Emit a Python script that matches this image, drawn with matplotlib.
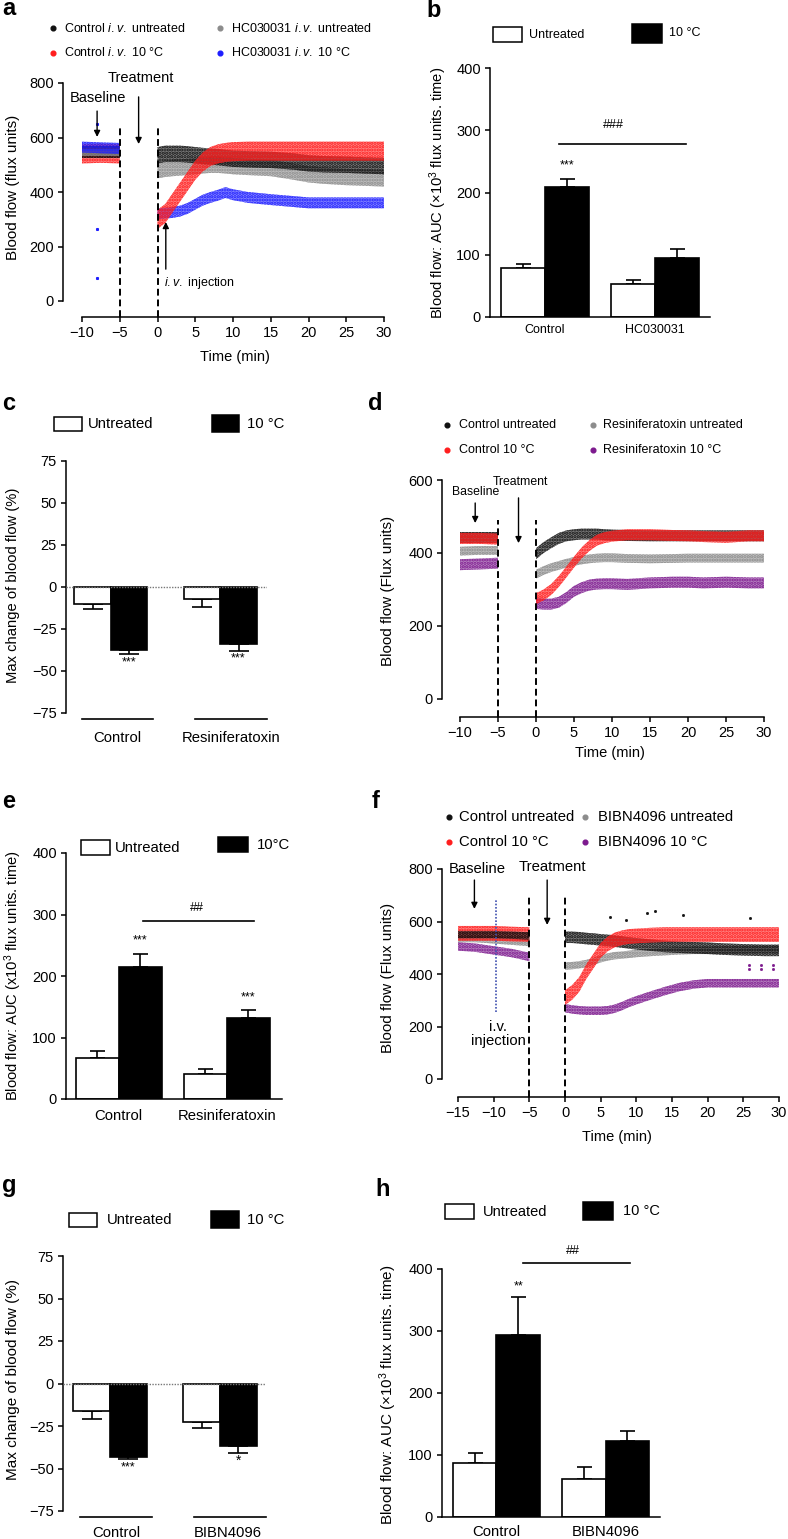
import matplotlib
matplotlib.use('Agg')
import matplotlib.pyplot as plt
from matplotlib.patches import Rectangle
from matplotlib.lines import Line2D

plt.rcParams['font.family'] = ['Liberation Sans', 'DejaVu Sans']
plt.rcParams['mathtext.fontset'] = 'custom'
plt.rcParams['mathtext.rm'] = 'Liberation Sans'
plt.rcParams['mathtext.it'] = 'Liberation Sans:italic'
plt.rcParams['axes.linewidth'] = 1.1
plt.rcParams['hatch.linewidth'] = 1.6

# ------------------------------------------------------------------ data
# panel a (HC030031)
a_base_t = [-10, -7.5, -5]
a_base_black = [545, 545, 545]
a_base_red = [540, 542, 540]
a_base_gray = [545, 545, 545]
a_base_blue = [565, 562, 560]
a_t = [0, 1, 2, 3, 4, 5, 6, 7, 8, 9, 10, 12, 15, 18, 20, 22, 25, 28, 30]
a_black = [535, 540, 540, 540, 538, 535, 532, 530, 528, 525, 522, 520, 518, 512, 505, 502, 500, 497, 495]
a_red = [300, 320, 360, 400, 440, 480, 510, 530, 540, 545, 548, 550, 550, 550, 550, 550, 550, 550, 550]
a_gray = [480, 485, 488, 490, 492, 495, 498, 500, 500, 498, 495, 492, 488, 475, 465, 460, 455, 452, 450]
a_blue = [320, 322, 325, 330, 340, 355, 370, 380, 388, 398, 390, 380, 372, 365, 360, 360, 360, 360, 360]
a_blue_out_t = [-8, -8, -8]
a_blue_out_v = [265, 85, 648]
a_spread = [30, 35, 30, 20]  # black, red, gray, blue

# panel b
b_groups = ['Control', 'HC030031']
b_untreated = [78, 53]
b_untreated_err = [7, 6]
b_cold = [209, 94]
b_cold_err = [13, 16]

# panel c
c_groups = ['Control', 'Resiniferatoxin']
c_untreated = [-10, -7]
c_untreated_err = [2.8, 4.7]
c_cold = [-37.5, -34]
c_cold_err = [2.5, 3.9]

# panel d (Resiniferatoxin)
d_base_t = [-10, -7.5, -5]
d_base_black = [442, 442, 442]
d_base_red = [440, 440, 438]
d_base_gray = [405, 407, 407]
d_base_purple = [368, 370, 372]
d_t = [0, 1, 2, 3, 4, 5, 6, 7, 8, 9, 10, 12, 15, 18, 20, 22, 25, 28, 30]
d_black = [398, 415, 428, 440, 447, 450, 452, 452, 452, 450, 449, 448, 447, 447, 447, 447, 447, 447, 447]
d_red = [275, 285, 300, 322, 348, 375, 400, 420, 435, 442, 446, 450, 450, 448, 447, 445, 443, 447, 447]
d_gray = [342, 352, 360, 366, 372, 377, 381, 384, 386, 387, 387, 385, 384, 385, 386, 386, 386, 386, 386]
d_purple = [262, 260, 260, 265, 278, 295, 305, 312, 315, 316, 316, 314, 318, 320, 320, 318, 320, 318, 318]
d_spread = [15, 15, 12, 15]

# panel e
e_groups = ['Control', 'Resiniferatoxin']
e_untreated = [67, 40]
e_untreated_err = [11, 8]
e_cold = [214, 131]
e_cold_err = [22, 13]

# panel f (BIBN4096)
f_base_t = [-15, -12.5, -10, -7.5, -5]
f_base_black = [550, 550, 550, 548, 545]
f_base_red = [555, 555, 555, 552, 550]
f_base_gray = [535, 535, 530, 525, 520]
f_base_purple = [505, 500, 490, 480, 465]
f_t = [0, 1, 2, 3, 4, 5, 6, 7, 8, 9, 10, 12, 14, 16, 18, 20, 22, 25, 28, 30]
f_black = [540, 540, 538, 535, 533, 530, 528, 525, 522, 518, 515, 510, 505, 502, 500, 498, 495, 492, 490, 490]
f_red = [310, 330, 360, 410, 450, 490, 515, 530, 538, 543, 545, 548, 550, 550, 550, 550, 550, 550, 550, 550]
f_gray = [430, 432, 435, 440, 448, 458, 465, 470, 472, 475, 478, 482, 485, 488, 490, 490, 492, 493, 495, 495]
f_purple = [270, 265, 262, 260, 260, 260, 262, 268, 278, 290, 300, 318, 335, 350, 360, 365, 365, 365, 365, 365]
f_spread = [22, 28, 14, 16]
f_black_stray_t = [6.3, 8.5, 11.5, 12.6, 16.6, 26]
f_black_stray_v = [617, 605, 632, 640, 625, 613]
f_purple_stray_t = [25.8, 25.8, 27.5, 27.5, 29.2, 29.2]
f_purple_stray_v = [434, 419, 434, 419, 434, 419]

# panel g
g_groups = ['Control', 'BIBN4096']
g_untreated = [-16, -22.4]
g_untreated_err = [4.6, 3.6]
g_cold = [-43, -37]
g_cold_err = [1.3, 3.7]

# panel h
h_groups = ['Control', 'BIBN4096']
h_untreated = [87, 62]
h_untreated_err = [16, 18]
h_cold = [293, 122]
h_cold_err = [62, 16]

# ------------------------------------------------------------------ figure
W, H = 788, 1539
fig = plt.figure(figsize=(W / 100, H / 100), dpi=100)

BLACK = '#111111'
RED = '#ff1e1e'
GRAY = '#8c8c8c'
BLUE = '#1e1eff'
PURPLE = '#7d1a8e'


def fx(x):
    return x / W


def fy(y):
    return 1 - y / H


def make_axes(left, top, right, bottom):
    return fig.add_axes([left / W, 1 - bottom / H, (right - left) / W, (bottom - top) / H])


def px2pt(p):
    return p * 0.72


def ts_axes(spine_x, x0, x1, y_top, y0, spine_y, xr, yr, xticks, yticks):
    ax = make_axes(spine_x, y_top, x1, spine_y)
    ppx = (x1 - x0) / (xr[1] - xr[0])
    ppy = (y0 - y_top) / (yr[1] - yr[0])
    ax.set_xlim(xr[0] - (x0 - spine_x) / ppx, xr[1])
    ax.set_ylim(yr[0] - (spine_y - y0) / ppy, yr[1])
    ax.spines['left'].set_bounds(*yr)
    ax.spines['bottom'].set_bounds(*xr)
    ax.spines['top'].set_visible(False)
    ax.spines['right'].set_visible(False)
    ax.set_xticks(xticks)
    ax.set_yticks(yticks)
    ax.tick_params(direction='out', length=px2pt(5), width=1.1, labelsize=10.5, pad=3)
    ax.patch.set_alpha(0)
    return ax


def cloud(ax, t, y, spread, color, z):
    lo = [v - spread for v in y]
    hi = [v + spread for v in y]
    ax.fill_between(t, lo, hi, facecolor=color, alpha=0.55, lw=0, zorder=z)
    ax.fill_between(t, lo, hi, facecolor='none', edgecolor=color, hatch='.....',
                    lw=0, zorder=z)


def dashed(ax, xs, top):
    lo = ax.get_ylim()[0]
    for x in xs:
        ax.plot([x, x], [lo, top], color='black', lw=1.4, dashes=(3.5, 2), zorder=6,
                clip_on=False)


def arrow(ax, x, y_from, y_to):
    ax.annotate('', xy=(x, y_to), xytext=(x, y_from), xycoords='data',
                arrowprops=dict(arrowstyle='-|>', color='black', lw=1.0,
                                mutation_scale=9, shrinkA=0, shrinkB=0),
                annotation_clip=False, zorder=7)


def set_ylabel_px(ax, text, xpx, ypx, size):
    ax.set_ylabel(text, fontsize=size)
    ax.yaxis.set_label_coords(fx(xpx), fy(ypx), transform=fig.transFigure)
    ax.yaxis.label.set_va('center')


def set_xlabel_px(ax, text, xpx, ypx, size):
    ax.set_xlabel(text, fontsize=size)
    ax.xaxis.set_label_coords(fx(xpx), fy(ypx), transform=fig.transFigure)
    ax.xaxis.label.set_va('center')


def dot_legend(items, size, ms=3.4):
    for mx, my, color, tx, label in items:
        fig.add_artist(Line2D([fx(mx)], [fy(my)], marker='o', ms=ms, color=color, ls='none',
                              transform=fig.transFigure))
        fig.text(fx(tx), fy(my), label, fontsize=size, ha='left', va='center')


def box_legend(items, size):
    for x0, y0, x1, y1, fc, tx, label in items:
        fig.add_artist(Rectangle((fx(x0), fy(y1)), (x1 - x0) / W, (y1 - y0) / H,
                                 transform=fig.transFigure, facecolor=fc,
                                 edgecolor='black', lw=1.1))
        fig.text(fx(tx), fy((y0 + y1) / 2), label, fontsize=size, ha='left', va='center')


def bars(ax, pos_u, val_u, err_u, pos_c, val_c, err_c, capsize):
    ax.bar(pos_u, val_u, width=1, color='white', edgecolor='black', lw=1.2, zorder=2)
    ax.bar(pos_c, val_c, width=1, color='black', edgecolor='black', lw=1.2, zorder=2)
    for p, v, e in list(zip(pos_u, val_u, err_u)) + list(zip(pos_c, val_c, err_c)):
        yerr = [[0], [e]] if v >= 0 else [[e], [0]]
        ax.errorbar([p], [v], yerr=yerr, fmt='none', ecolor='black', elinewidth=1.2,
                    capsize=capsize, capthick=1.2, zorder=1, clip_on=False)


def auc_axes(left, top, right, bottom, xlim, groups, label_pad, label_size):
    ax = make_axes(left, top, right, bottom)
    ax.set_xlim(*xlim)
    ax.set_ylim(0, 400)
    ax.set_yticks([0, 100, 200, 300, 400])
    ax.spines['top'].set_visible(False)
    ax.spines['right'].set_visible(False)
    ax.set_xticks([0.5, 3.0])
    ax.set_xticklabels(groups, fontsize=label_size)
    ax.tick_params(axis='x', length=0, pad=label_pad)
    ax.tick_params(axis='y', direction='out', length=px2pt(5), width=1.1, labelsize=10.5, pad=3)
    ax.patch.set_alpha(0)
    return ax


def change_axes(left, top, right, bottom, xlim, groups, centers, lines, line_y, label_pad):
    ax = make_axes(left, top, right, bottom)
    ax.set_xlim(*xlim)
    ax.set_ylim(-75, 75)
    ax.set_yticks([-75, -50, -25, 0, 25, 50, 75])
    for s in ['top', 'right', 'bottom']:
        ax.spines[s].set_visible(False)
    ax.axhline(0, color='#777777', lw=1.0, ls=(0, (1, 1)), zorder=3)
    ax.set_xticks(centers)
    ax.set_xticklabels(groups, fontsize=10.7)
    ax.tick_params(axis='x', length=0, pad=label_pad)
    ax.tick_params(axis='y', direction='out', length=px2pt(5), width=1.1, labelsize=10.5, pad=3)
    for x0, x1 in lines:
        ax.plot([x0, x1], [line_y, line_y], color='black', lw=1.2, clip_on=False)
    ax.patch.set_alpha(0)
    return ax


# ------------------------------------------------------------------ panel a
ax = ts_axes(63, 82, 384, 83, 301, 317, (-10, 30), (0, 800),
             [-10, -5, 0, 5, 10, 15, 20, 25, 30], [0, 200, 400, 600, 800])
cloud(ax, a_base_t, a_base_red, a_spread[1], RED, 2)
cloud(ax, a_base_t, a_base_black, a_spread[0] - 8, BLACK, 3)
cloud(ax, a_base_t, a_base_gray, a_spread[2] - 18, GRAY, 4)
cloud(ax, a_base_t, a_base_blue, a_spread[3], BLUE, 5)
cloud(ax, a_t, a_gray, a_spread[2], GRAY, 2)
cloud(ax, a_t, a_black, a_spread[0], BLACK, 3)
cloud(ax, a_t, a_blue, a_spread[3], BLUE, 4)
cloud(ax, a_t, a_red, a_spread[1], RED, 5)
ax.plot(a_blue_out_t, a_blue_out_v, 's', ms=1.2, color=BLUE, zorder=5)
dashed(ax, [-5, 0], 646)
arrow(ax, -8, 697, 602)
arrow(ax, -2.5, 749, 576)
arrow(ax, 1.1, 117, 290)
ax.text(-7.9, 745, 'Baseline', fontsize=10.5, ha='center', va='center')
ax.text(-2.2, 818, 'Treatment', fontsize=10.5, ha='center', va='center')
ax.text(0.9, 66, r'$\mathit{i.v.}$ injection', fontsize=9, ha='left', va='center')
set_ylabel_px(ax, 'Blood flow (flux units)', 13, 187, 11)
set_xlabel_px(ax, 'Time (min)', 235, 357, 10.5)
dot_legend([(53, 28, BLACK, 64, r'Control $\mathit{i.v.}$ untreated'),
            (220, 28, GRAY, 231, r'HC030031 $\mathit{i.v.}$ untreated'),
            (53, 53, RED, 64, r'Control $\mathit{i.v.}$ 10 °C'),
            (220, 53, BLUE, 231, r'HC030031 $\mathit{i.v.}$ 10 °C')], 9)

# ------------------------------------------------------------------ panel b
ax = auc_axes(490, 68, 710, 317, (-0.74, 4.26), b_groups, 5, 9)
bars(ax, [0, 2.5], b_untreated, b_untreated_err, [1, 3.5], b_cold, b_cold_err, 5.4)
ax.text(1.0, 244, '***', fontsize=9, ha='center', va='center')
ax.plot([0.83, 3.72], [278, 278], color='black', lw=1.2)
ax.text(2.06, 308, '###', fontsize=9, ha='center', va='center')
set_ylabel_px(ax, 'Blood flow: AUC (×10$^3$ flux units. time)', 438, 193, 10.6)
box_legend([(493, 27, 522, 42, 'white', 529, 'Untreated'),
            (632, 24, 662, 43, 'black', 669, '10 °C')], 9)

# ------------------------------------------------------------------ panel c
c_line_y = -75 - 6 / 1.68
ax = change_axes(66, 461, 267, 713, (-0.726, 4.78), c_groups, [0.68, 3.8],
                 [(-0.29, 1.66), (2.81, 4.78)], c_line_y, 13)
bars(ax, [0, 3], c_untreated, c_untreated_err, [1, 4], c_cold, c_cold_err, 7)
ax.text(1.0, -45.2, '***', fontsize=9, ha='center', va='center')
ax.text(4.0, -42.3, '***', fontsize=9, ha='center', va='center')
set_ylabel_px(ax, 'Max change of blood flow (%)', 13, 585, 10.6)
box_legend([(54, 417, 82, 431, 'white', 88, 'Untreated'),
            (212, 415, 239, 432, 'black', 247, '10 °C')], 10.7)

# ------------------------------------------------------------------ panel d
ax = ts_axes(442, 460, 764, 480, 699, 717, (-10, 30), (0, 600),
             [-10, -5, 0, 5, 10, 15, 20, 25, 30], [0, 200, 400, 600])
cloud(ax, d_base_t, d_base_purple, d_spread[3], PURPLE, 2)
cloud(ax, d_base_t, d_base_gray, d_spread[2], GRAY, 3)
cloud(ax, d_base_t, d_base_black, d_spread[0], BLACK, 4)
cloud(ax, d_base_t, d_base_red, d_spread[1], RED, 5)
cloud(ax, d_t, d_purple, d_spread[3], PURPLE, 2)
cloud(ax, d_t, d_gray, d_spread[2], GRAY, 3)
cloud(ax, d_t, d_black, d_spread[0], BLACK, 4)
cloud(ax, d_t, d_red, d_spread[1], RED, 5)
dashed(ax, [-5, 0], 490)
arrow(ax, -8, 537, 482)
arrow(ax, -2.3, 551, 427)
ax.text(-7.9, 567, 'Baseline', fontsize=8.8, ha='center', va='center')
ax.text(-2.0, 595, 'Treatment', fontsize=8.8, ha='center', va='center')
set_ylabel_px(ax, 'Blood flow (Flux units)', 388, 591, 11)
set_xlabel_px(ax, 'Time (min)', 610, 753, 10.5)
dot_legend([(447, 425, BLACK, 459, 'Control untreated'),
            (593, 425, GRAY, 603, 'Resiniferatoxin untreated'),
            (447, 450, RED, 459, 'Control 10 °C'),
            (593, 450, PURPLE, 603, 'Resiniferatoxin 10 °C')], 9)

# ------------------------------------------------------------------ panel e
ax = auc_axes(66, 853, 282, 1099, (-0.72, 4.28), e_groups, 7, 10.7)
bars(ax, [0, 2.5], e_untreated, e_untreated_err, [1, 3.5], e_cold, e_cold_err, 5.4)
ax.text(1.0, 258, '***', fontsize=9, ha='center', va='center')
ax.text(3.5, 165, '***', fontsize=9, ha='center', va='center')
ax.plot([1.06, 3.63], [290, 290], color='black', lw=1.2)
ax.text(2.31, 310, '##', fontsize=9, ha='center', va='center')
set_ylabel_px(ax, 'Blood flow: AUC (x10$^3$ flux units. time)', 13, 976, 10.6)
box_legend([(81, 840, 110, 855, 'white', 115, 'Untreated'),
            (218, 837, 248, 852, 'black', 257, '10°C')], 10.7)

# ------------------------------------------------------------------ panel f
ax = ts_axes(442, 458, 779, 869, 1079, 1097, (-15, 30), (0, 800),
             [-15, -10, -5, 0, 5, 10, 15, 20, 25, 30], [0, 200, 400, 600, 800])
cloud(ax, f_base_t, f_base_purple, f_spread[3], PURPLE, 2)
cloud(ax, f_base_t, f_base_gray, f_spread[2], GRAY, 3)
cloud(ax, f_base_t, f_base_red, f_spread[1], RED, 4)
cloud(ax, f_base_t, f_base_black, f_spread[0] - 8, BLACK, 5)
cloud(ax, f_t, f_purple, f_spread[3], PURPLE, 2)
cloud(ax, f_t, f_gray, f_spread[2], GRAY, 3)
cloud(ax, f_t, f_black, f_spread[0], BLACK, 4)
cloud(ax, f_t, f_red, f_spread[1], RED, 5)
ax.plot(f_black_stray_t, f_black_stray_v, 's', ms=1.0, color=BLACK, zorder=5)
ax.plot(f_purple_stray_t, f_purple_stray_v, 's', ms=1.0, color=PURPLE, zorder=5)
ax.plot([-9.7, -9.7], [255, 685], color='#4050b0', lw=1.2, ls=(0, (1, 1)), zorder=6)
dashed(ax, [-5, 0], 700)
arrow(ax, -12.7, 758, 648)
arrow(ax, -2.5, 758, 587)
ax.text(-12.3, 800, 'Baseline', fontsize=10.7, ha='center', va='center')
ax.text(-1.7, 808, 'Treatment', fontsize=10.7, ha='center', va='center')
ax.text(-9.4, 171, 'i.v.\ninjection', fontsize=10.7, ha='center', va='center',
        linespacing=1.0)
set_ylabel_px(ax, 'Blood flow (Flux units)', 388, 978, 11)
set_xlabel_px(ax, 'Time (min)', 617, 1137, 10.5)
dot_legend([(449, 817, BLACK, 459, 'Control untreated'),
            (585, 817, GRAY, 598, 'BIBN4096 untreated'),
            (449, 842, RED, 459, 'Control 10 °C'),
            (585, 842, PURPLE, 598, 'BIBN4096 10 °C')], 10.7)

# ------------------------------------------------------------------ panel g
g_line_y = -75 - 6 / 1.7
ax = change_axes(63, 1256, 265, 1511, (-0.78, 4.73), g_groups, [0.67, 3.72],
                 [(-0.31, 1.65), (2.79, 4.75)], g_line_y, 10.5)
bars(ax, [0, 3], g_untreated, g_untreated_err, [1, 4], g_cold, g_cold_err, 7)
ax.text(1.0, -49.4, '***', fontsize=9, ha='center', va='center')
ax.text(4.0, -45.5, '*', fontsize=10, ha='center', va='center')
set_ylabel_px(ax, 'Max change of blood flow (%)', 13, 1380, 11)
box_legend([(69, 1213, 97, 1227, 'white', 107, 'Untreated'),
            (211, 1211, 239, 1228, 'black', 247, '10 °C')], 10.7)

# ------------------------------------------------------------------ panel h
ax = auc_axes(442, 1269, 660, 1517, (-0.75, 4.25), h_groups, 5.5, 10.7)
bars(ax, [0, 2.5], h_untreated, h_untreated_err, [1, 3.5], h_cold, h_cold_err, 5.4)
ax.text(1.0, 372, '**', fontsize=9, ha='center', va='center')
ax.plot([1.11, 3.57], [410, 410], color='black', lw=1.2, clip_on=False)
ax.text(2.26, 429, '##', fontsize=9, ha='center', va='center')
set_ylabel_px(ax, 'Blood flow: AUC (×10$^3$ flux units. time)', 388, 1395, 11)
box_legend([(445, 1204, 474, 1219, 'white', 483, 'Untreated'),
            (583, 1202, 613, 1220, 'black', 623, '10 °C')], 10.5)

# ------------------------------------------------------------------ panel letters
for letter, x, y in [('a', 2, 15), ('b', 426, 17), ('c', 2, 410), ('d', 368, 410),
                     ('e', 2, 808), ('f', 372, 808), ('g', 2, 1192), ('h', 375, 1196)]:
    fig.text(fx(x), fy(y), letter, fontsize=17, fontweight='bold', ha='left', va='baseline')

fig.savefig('out.png', dpi=100)
